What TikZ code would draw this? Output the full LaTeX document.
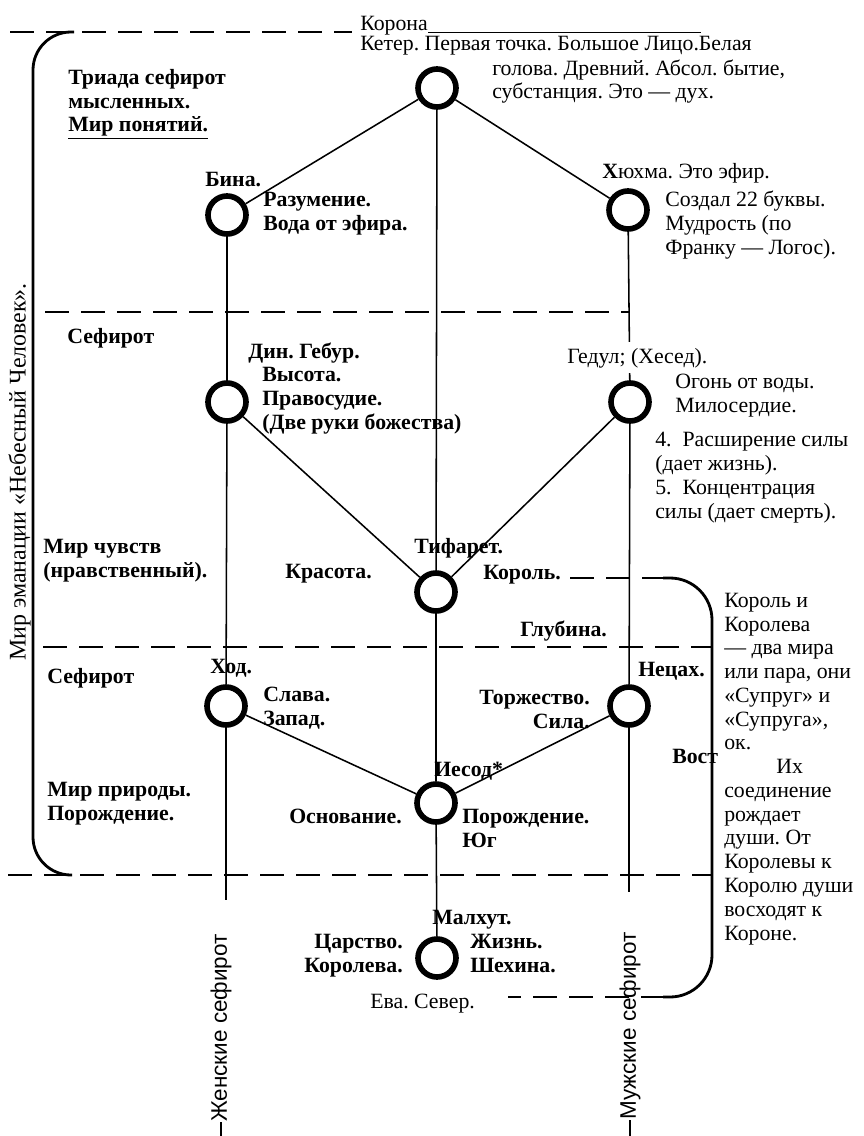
\documentclass[tikz,border=0pt]{standalone}
\usepackage{fontspec}
\setmainfont{Liberation Serif}
\newfontfamily\sefsans{Liberation Sans}
\newcommand\txtsize{\fontsize{15.5}{16.9}\selectfont}
\frenchspacing

\begin{document}
\begin{tikzpicture}[x=0.025cm,y=-0.025cm,
  sefira/.style={circle,draw,line width=4pt,minimum size=0.95cm,inner sep=0pt},
  link/.style={line width=1.1pt},
  zone/.style={line width=1.3pt,dash pattern=on 0.6cm off 0.3cm},
  brace/.style={line width=2pt,rounded corners=0.95cm},
  txt/.style={inner sep=0pt,anchor=base west,align=left,font=\txtsize},
  bold/.style={txt,font=\txtsize\bfseries},
  upright/.style={inner sep=0pt,rotate=90,font=\txtsize}]
\useasboundingbox (0,0) rectangle (863,1136);
\coordinate (pagefoot) at (0,1136);

% the ten sefirot
\node[sefira] (keter) at (437,88) {};
\node[sefira] (bina) at (227,215) {};
\node[sefira] (hokhma) at (628,210) {};
\node[sefira] (gevura) at (227,402) {};
\node[sefira] (hesed) at (630,402) {};
\node[sefira] (tiferet) at (436,592) {};
\node[sefira] (hod) at (226,706) {};
\node[sefira] (netzah) at (629,706) {};
\node[sefira] (yesod) at (436,803) {};
\node[sefira] (malkhut) at (437,958) {};
\coordinate (hodfoot) at (226,900);
\coordinate (netzfoot) at (629,892);

% paths of the tree
\draw[link] (keter) -- (bina);
\draw[link] (keter) -- (hokhma);
\draw[link] (keter) -- (tiferet);
\draw[link] (bina) -- (gevura);
\draw[link] (hokhma) -- (hesed);
\draw[link] (gevura) -- (tiferet);
\draw[link] (hesed) -- (tiferet);
\draw[link] (gevura) -- (hod);
\draw[link] (hesed) -- (netzah);
\draw[link] (tiferet) -- (yesod);
\draw[link] (hod) -- (yesod);
\draw[link] (netzah) -- (yesod);
\draw[link] (yesod) -- (malkhut);
\draw[link] (hod) -- (hodfoot);
\draw[link] (netzah) -- (netzfoot);

% dashed borders and brackets
\draw[zone] (10,32) -- (352,32);
\draw[zone] (45,312) -- (630,312);
\draw[zone] (570,578) -- (665,578);
\draw[zone] (43,647) -- (712,647);
\draw[zone] (8,875) -- (712,875);
\draw[zone] (665,997) -- (508,997);
\draw[brace] (74,32) -- (33,32) -- (33,875) -- (72,875);
\draw[brace,rounded corners=1.05cm] (663,578) -- (712,578) -- (712,997) -- (663,997);

% crown (multi-line nodes sit on their last baseline)
\node[txt] (korona) at (360,31) {Корона};
\draw[link] (korona.base east) ++(0,1.5) -- ++(273,0);
\node[txt] (keterA) at (360,51) {Кетер. Первая точка. Большое Лицо.Белая};
\node[txt] (keterB) at (492,99) {голова. Древний. Абсол. бытие,\\субстанция. Это — дух.};

% upper triad
\node[bold] (triad) at (68,132) {Триада сефирот\\мысленных.\\\underline{Мир понятий.}};
\node[bold] (binaname) at (205,186) {Бина.};
\node[bold] (binatext) at (263,230) {Разумение.\\Вода от эфира.};
\node[txt] (hokhmaname) at (602,179) {\textbf{Х}юхма. Это эфир.};
\node[txt] (hokhmatext) at (665,254) {Создал 22 буквы.\\Мудрость (по\\Франку — Логос).};

% middle triad
\node[bold] (sefirot1) at (67,343) {Сефирот};
\node[bold] (gevuraname) at (248,358) {Дин. Гебур.};
\node[bold] (gevuratext) at (262,429) {Высота.\\Правосудие.\\(Две руки божества)};
\node[txt,fill=white,inner ysep=4pt] (hesedname) at (567,363) {Гедул; (Хесед).};
\node[txt] (hesedtext) at (675,412) {Огонь от воды.\\Милосердие.};
\node[txt] (powers) at (655,518) {4.\hspace{0.5em}Расширение силы\\(дает жизнь).\\5.\hspace{0.5em}Концентрация\\силы (дает смерть).};
\node[bold] (feelings) at (43,577) {Мир чувств\\(нравственный).};
\node[bold] (beauty) at (285,578) {Красота.};
\node[bold] (tifname) at (414,553) {Тифарет.};
\node[bold] (king) at (483,579) {Король.};
\node[bold] (depth) at (520,636) {Глубина.};

% lower triad
\node[bold] (sefirot2) at (47,683) {Сефирот};
\node[bold] (hodname) at (210,673) {Ход.};
\node[bold] (hodtext) at (263,725) {Слава.\\Запад.};
\node[bold] (netzname) at (638,676) {Нецах.};
\node[bold,anchor=base east,align=right] (netztext) at (590,728) {Торжество.\\Сила.};
\node[bold] (east) at (672,763) {Вост};
\node[bold] (yesodname) at (434,776) {Иесод*};
\node[bold] (nature) at (47,820) {Мир природы.\\Порождение.};
\node[bold,anchor=base east] (foundation) at (402,823) {Основание.};
\node[bold] (yesodtext) at (462,847) {Порождение.\\Юг};

% kingdom
\node[bold] (malkhutname) at (432,924) {Малхут.};
\node[bold] (malkhuttext) at (470,972) {Жизнь.\\Шехина.};
\node[bold,anchor=base east,align=right] (queen) at (403,972) {Царство.\\Королева.};
\node[txt] (eve) at (370,1008) {Ева. Север.};

% right column of text
\node[txt] (kingqueen) at (724,940) {Король и\\Королева\\— два мира\\или пара, они\\«Супруг» и\\«Супруга»,\\ок.\\\hspace*{1.3cm}Их\\соединение\\рождает\\души. От\\Королевы к\\Королю души\\восходят к\\Короне.};

% vertical labels
\node[upright,font=\fontsize{17}{18}\selectfont] (emanation) at (21,472) {\underline{Мир эманации «Небесный Человек».}};
\node[upright,font=\sefsans\fontsize{16}{17}\selectfont] (female) at (221,1028) {Женские сефирот};
\node[upright,font=\sefsans\fontsize{16}{17}\selectfont] (male) at (630,1026) {Мужские сефирот};
\draw[link] (female.west) -- (female.west |- pagefoot);
\draw[link] (male.west) -- (male.west |- pagefoot);
\end{tikzpicture}
\end{document}
